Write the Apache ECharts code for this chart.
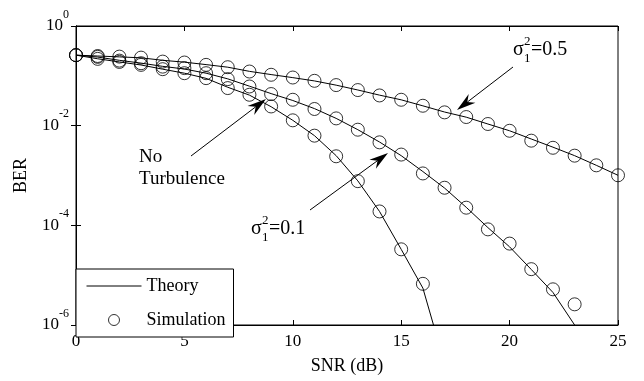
<!DOCTYPE html>
<html>
<head>
<meta charset="utf-8">
<script src="https://cdn.jsdelivr.net/npm/echarts@6.0.0/dist/echarts.min.js"></script>
<style>
  html, body { margin: 0; padding: 0; background: #fff; }
  #chart { width: 644px; height: 381px; }
</style>
</head>
<body>
<div id="chart"></div>
<script>
// SNR axis (dB)
const snr = [0, 1, 2, 3, 4, 5, 6, 7, 8, 9, 10, 11, 12, 13, 14, 15, 16, 17, 18, 19, 20, 21, 22, 23, 24, 25];
const xTicks = [0, 5, 10, 15, 20, 25];
const yTicks = [1, 1e-2, 1e-4, 1e-6];

// theory curves (BER)
const theory05 = [0.26, 0.25, 0.24, 0.23, 0.205, 0.188, 0.168, 0.149, 0.123, 0.106, 0.092, 0.079, 0.065, 0.052, 0.041, 0.033, 0.025, 0.0188, 0.0148, 0.0108, 0.0079, 0.0054, 0.0037, 0.0025, 0.0016, 0.00101];
const theory01 = [0.26, 0.238, 0.205, 0.18, 0.155, 0.137, 0.113, 0.087, 0.062, 0.044, 0.032, 0.022, 0.014, 0.0083, 0.0047, 0.0025, 0.0012, 5.6e-4, 2.3e-4, 9e-5, 3.7e-5, 1.3e-5, 4.5e-6, 1.0e-6, 1.5e-7];
const theoryNoTurb = [0.26, 0.22, 0.19, 0.165, 0.136, 0.113, 0.089, 0.059, 0.041, 0.024, 0.0128, 0.0063, 0.0025, 7.8e-4, 1.9e-4, 3.3e-5, 5.5e-6, 1.7e-7];

// simulation points (BER)
const sim05 = [0.26, 0.25, 0.243, 0.232, 0.193, 0.185, 0.166, 0.149, 0.122, 0.105, 0.0925, 0.0794, 0.0652, 0.0518, 0.0404, 0.0331, 0.0251, 0.0185, 0.0149, 0.0108, 0.0079, 0.005, 0.0036, 0.0025, 0.0016, 0.00101];
const sim01 = [0.26, 0.24, 0.202, 0.179, 0.153, 0.143, 0.113, 0.0859, 0.0611, 0.0431, 0.0331, 0.0216, 0.014, 0.0083, 0.00463, 0.00263, 0.0011, 5.68e-4, 2.26e-4, 8.3e-5, 4.3e-5, 1.32e-5, 5.2e-6, 2.6e-6];
const simNoTurb = [0.26, 0.219, 0.19, 0.166, 0.136, 0.113, 0.0899, 0.0568, 0.0417, 0.0243, 0.0128, 0.0063, 0.00243, 7.7e-4, 1.9e-4, 3.3e-5, 6.7e-6];

const FONT = 'Liberation Serif';

function pairs(ys) {
  return ys.map((v, i) => [snr[i], v]);
}

function theorySeries(ys) {
  return {
    name: 'Theory',
    type: 'line',
    data: pairs(ys),
    symbol: 'none',
    smooth: false,
    lineStyle: { color: '#000', width: 1 },
    // transparent so the legend shows only the line
    itemStyle: { color: 'rgba(0,0,0,0)', borderWidth: 0 },
    clip: true,
    z: 2
  };
}

function simSeries(ys) {
  return {
    name: 'Simulation',
    type: 'scatter',
    data: pairs(ys),
    symbol: 'circle',
    symbolSize: 13,
    itemStyle: { color: 'rgba(0,0,0,0)', borderColor: '#000', borderWidth: 1 },
    clip: true,
    z: 3
  };
}

const chart = echarts.init(document.getElementById('chart'), null, { renderer: 'canvas' });

const option = {
  animation: false,
  backgroundColor: '#fff',
  textStyle: { fontFamily: FONT, color: '#000' },
  grid: {
    left: 76, right: 26, top: 26, bottom: 56,
    show: true, borderColor: '#000', borderWidth: 1, backgroundColor: 'transparent'
  },
  legend: {
    data: ['Theory', 'Simulation'],
    orient: 'vertical',
    left: 76,
    top: 269,
    itemWidth: 55,
    itemHeight: 11,
    itemGap: 16,
    padding: [8, 8, 8, 10],
    backgroundColor: '#fff',
    borderColor: '#000',
    borderWidth: 1,
    borderRadius: 0,
    selectedMode: false,
    lineStyle: { width: 1 },
    itemStyle: { borderWidth: 1 },
    textStyle: { fontFamily: FONT, fontSize: 18, color: '#000' }
  },
  xAxis: [
    {
      type: 'value',
      min: 0, max: 25, interval: 5,
      name: 'SNR (dB)',
      nameLocation: 'middle',
      nameGap: 32,
      nameTextStyle: { fontFamily: FONT, fontSize: 18, color: '#000' },
      axisLine: { show: true, lineStyle: { color: '#000', width: 1 } },
      axisTick: { show: true, inside: true, length: 5, lineStyle: { color: '#000' } },
      axisLabel: {
        fontFamily: FONT, fontSize: 17, color: '#000', margin: 8,
        formatter: v => (xTicks.indexOf(v) >= 0 ? String(v) : '')
      },
      splitLine: { show: false }
    },
    {
      type: 'value',
      position: 'top',
      min: 0, max: 25, interval: 5,
      axisLine: { show: true, lineStyle: { color: '#000', width: 1 } },
      axisTick: { show: true, inside: true, length: 5, lineStyle: { color: '#000' } },
      axisLabel: { show: false },
      splitLine: { show: false }
    }
  ],
  yAxis: [
    {
      type: 'log',
      logBase: 100,
      min: 1e-6, max: 1,
      name: 'BER',
      nameLocation: 'middle',
      nameGap: 46,
      nameRotate: 90,
      nameTextStyle: { fontFamily: FONT, fontSize: 18, color: '#000' },
      axisLine: { show: true, lineStyle: { color: '#000', width: 1 } },
      axisTick: { show: true, inside: true, length: 5, lineStyle: { color: '#000' } },
      minorTick: { show: false },
      axisLabel: {
        margin: 7,
        formatter: v => {
          const e = Math.round(Math.log10(v));
          return '{b|10}{e|' + e + '}';
        },
        rich: {
          b: { fontFamily: FONT, fontSize: 17, color: '#000', verticalAlign: 'bottom', padding: [0, 0, 9, 0] },
          e: { fontFamily: FONT, fontSize: 12, color: '#000', verticalAlign: 'bottom', padding: [0, 0, 23, 0] }
        }
      },
      splitLine: { show: false }
    },
    {
      type: 'log',
      logBase: 100,
      min: 1e-6, max: 1,
      position: 'right',
      axisLine: { show: true, lineStyle: { color: '#000', width: 1 } },
      axisTick: { show: true, inside: true, length: 5, lineStyle: { color: '#000' } },
      axisLabel: { show: false },
      splitLine: { show: false }
    }
  ],
  series: [
    theorySeries(theory05),
    theorySeries(theory01),
    theorySeries(theoryNoTurb),
    simSeries(sim05),
    simSeries(sim01),
    simSeries(simNoTurb)
  ]
};

chart.setOption(option);

// annotations: arrows and labels (pixel positions)
function arrow(x1, y1, x2, y2) {
  const dx = x2 - x1, dy = y2 - y1;
  const len = Math.sqrt(dx * dx + dy * dy);
  const ux = dx / len, uy = dy / len;
  const nx = -uy, ny = ux;
  const L = 19, W = 5.5, N = 13;
  const bx = x2 - L * ux, by = y2 - L * uy;
  return [
    {
      type: 'line', silent: true, z: 10,
      shape: { x1: x1, y1: y1, x2: x2 - N * ux, y2: y2 - N * uy },
      style: { stroke: '#000', lineWidth: 1 }
    },
    {
      type: 'polygon', silent: true, z: 10,
      shape: { points: [[x2, y2], [bx + W * nx, by + W * ny], [x2 - N * ux, y2 - N * uy], [bx - W * nx, by - W * ny]] },
      style: { fill: '#000' }
    }
  ];
}

function txt(x, y, s, size, align) {
  return {
    type: 'text', silent: true, z: 10, x: x, y: y,
    style: { text: s, fontFamily: FONT, fontSize: size, fill: '#000', align: align || 'left', verticalAlign: 'middle' }
  };
}

function sigmaLabel(x, y, val) {
  return [
    txt(x, y, 'σ', 20),
    txt(x + 11, y - 8, '2', 13),
    txt(x + 11, y + 9, '1', 13),
    txt(x + 18, y, '=' + val, 20)
  ];
}

const graphics = [].concat(
  arrow(513, 67, 457, 110),
  arrow(191, 156, 266, 99),
  arrow(310, 210, 388, 153),
  [txt(139, 157, 'No', 19), txt(139, 179, 'Turbulence', 19)],
  sigmaLabel(513, 50, '0.5'),
  sigmaLabel(251, 229, '0.1')
);

chart.setOption({ graphic: graphics });
</script>
</body>
</html>
